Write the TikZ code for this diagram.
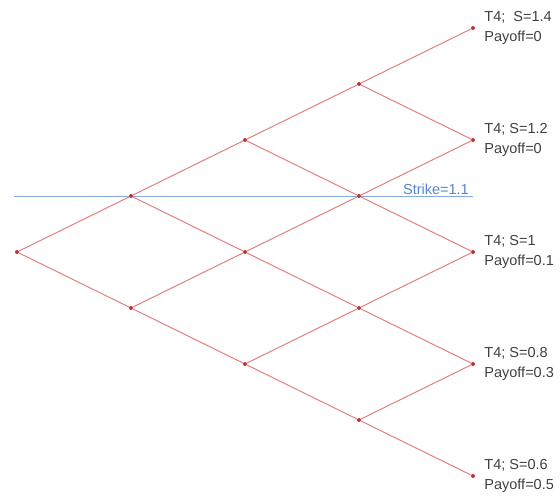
\documentclass[tikz,border=0pt]{standalone}
\usepackage{fontspec}
\setmainfont{Liberation Sans}
\usetikzlibrary{positioning}

\definecolor{branchred}{RGB}{226,128,128}
\definecolor{knotred}{RGB}{196,52,52}
\definecolor{strikeblue}{RGB}{132,170,228}
\definecolor{strikelabel}{RGB}{88,132,206}
\definecolor{labelgray}{RGB}{64,64,64}

\tikzset{
  knot/.style={circle, fill=knotred, inner sep=0pt, minimum size=4pt},
  branch/.style={draw=branchred, line width=1pt},
  endlabel/.style={align=left, inner sep=2pt, text=labelgray,
    font=\fontsize{14.5}{20}\selectfont},
}

\begin{document}
\begin{tikzpicture}[x=1pt, y=-1pt]
        \useasboundingbox (0,0) rectangle (560,497);
        % strike level
        \coordinate (k0) at (14,197);
        \coordinate (k1) at (473,197);
        \draw[draw=strikeblue, line width=1pt] (k0) -- (k1);
        \node[anchor=south east, inner sep=2pt, text=strikelabel,
              font=\fontsize{14.5}{17}\selectfont] (strike) at ([xshift=-2pt]k1) {Strike=1.1};

        % lattice points, one column per step
        \node[knot] (a0) at (17,252) {};
        \node[knot] (b0) at (131,196) {};
        \node[knot] (b1) at (131,308) {};
        \node[knot] (c0) at (245,140) {};
        \node[knot] (c1) at (245,252) {};
        \node[knot] (c2) at (245,364) {};
        \node[knot] (d0) at (359,84) {};
        \node[knot] (d1) at (359,196) {};
        \node[knot] (d2) at (359,308) {};
        \node[knot] (d3) at (359,420) {};
        \node[knot] (e0) at (473,28) {};
        \node[knot] (e1) at (473,140) {};
        \node[knot] (e2) at (473,252) {};
        \node[knot] (e3) at (473,364) {};
        \node[knot] (e4) at (473,476) {};

        \draw[branch]
        (a0) -- (b0) (a0) -- (b1)
        (b0) -- (c0) (b0) -- (c1)
        (b1) -- (c1) (b1) -- (c2)
        (c0) -- (d0) (c0) -- (d1)
        (c1) -- (d1) (c1) -- (d2)
        (c2) -- (d2) (c2) -- (d3)
        (d0) -- (e0) (d0) -- (e1)
        (d1) -- (e1) (d1) -- (e2)
        (d2) -- (e2) (d2) -- (e3)
        (d3) -- (e3) (d3) -- (e4);

        % payoffs at expiry
        \node[endlabel, right=7pt of e0] (p0) {T4;\ \ S=1.4\\Payoff=0};
        \node[endlabel, right=7pt of e1] (p1) {T4; S=1.2\\Payoff=0};
        \node[endlabel, right=7pt of e2] (p2) {T4; S=1\\Payoff=0.1};
        \node[endlabel, right=7pt of e3] (p3) {T4; S=0.8\\Payoff=0.3};
        \node[endlabel, right=7pt of e4] (p4) {T4; S=0.6\\Payoff=0.5};
\end{tikzpicture}
\end{document}
